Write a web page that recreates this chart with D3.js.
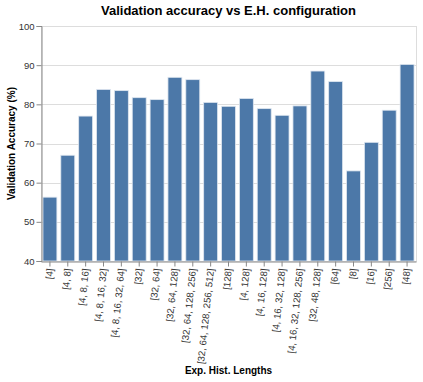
<!DOCTYPE html>
<html>
<head>
<meta charset="utf-8">
<script src="https://cdn.jsdelivr.net/npm/d3@7"></script>
<style>
  body { margin: 0; background: #fff; }
  text { font-family: "Liberation Sans", Arial, sans-serif; }
</style>
</head>
<body>
<script>
// bar chart: validation accuracy per exp. hist. length configuration

var configs = ["[4]", "[4, 8]", "[4, 8, 16]", "[4, 8, 16, 32]", "[4, 8, 16, 32, 64]",
  "[32]", "[32, 64]", "[32, 64, 128]", "[32, 64, 128, 256]", "[32, 64, 128, 256, 512]",
  "[128]", "[4, 128]", "[4, 16, 128]", "[4, 16, 32, 128]", "[4, 16, 32, 128, 256]",
  "[32, 48, 128]", "[64]", "[8]", "[16]", "[256]", "[48]"];
var accuracy = [56.3, 67.0, 77.0, 83.8, 83.5, 81.7, 81.2, 86.9, 86.3, 80.5, 79.5,
  81.5, 78.9, 77.2, 79.6, 88.5, 85.8, 63.0, 70.3, 78.5, 90.2];
var yTicks = [40, 50, 60, 70, 80, 90, 100];

var width = 423,
    height = 382,
    margin = {top: 26, right: 7, bottom: 121, left: 41};

var svg = d3.select("body")
  .append("svg")
    .attr("width", width)
    .attr("height", height);

var x = d3.scaleBand()
    .domain(configs)
    .range([margin.left, width - margin.right])
    .paddingInner(0.22)
    .paddingOuter(0.11);

var y = d3.scaleLinear()
    .domain([40, 100])
    .range([height - margin.bottom, margin.top]);

// grid
svg.append("g")
  .selectAll("line")
  .data(yTicks)
  .enter().append("line")
    .attr("x1", margin.left)
    .attr("x2", width - margin.right)
    .attr("y1", function(d) { return Math.round(y(d)) + 0.5; })
    .attr("y2", function(d) { return Math.round(y(d)) + 0.5; })
    .attr("stroke", "#ddd");

// view border
svg.append("rect")
    .attr("x", margin.left + 0.5)
    .attr("y", margin.top + 0.5)
    .attr("width", width - margin.right - margin.left)
    .attr("height", height - margin.bottom - margin.top)
    .attr("fill", "none")
    .attr("stroke", "#ddd");

svg.append("g")
  .selectAll("rect")
  .data(accuracy)
  .enter().append("rect")
    .attr("x", function(d, i) { return x(configs[i]); })
    .attr("y", function(d) { return y(d); })
    .attr("width", x.bandwidth())
    .attr("height", function(d) { return y(40) - y(d); })
    .attr("fill", "#4c78a8")
    .attr("stroke", "#dfe7f0")
    .attr("stroke-width", 0.8);

// y axis
var yAxis = svg.append("g")
    .attr("transform", "translate(" + (margin.left + 0.5) + ",0)")
    .call(d3.axisLeft(y).tickValues(yTicks).tickSize(5).tickPadding(2));
yAxis.select(".domain").attr("stroke", "#888");
yAxis.selectAll(".tick line").attr("stroke", "#888");
yAxis.selectAll(".tick text")
    .attr("font-size", 9.5)
    .attr("fill", "#333")
    .attr("font-family", "Liberation Sans, Arial, sans-serif");

// x axis
var xAxis = svg.append("g")
    .attr("transform", "translate(0," + (height - margin.bottom + 0.5) + ")")
    .call(d3.axisBottom(x).tickSize(5).tickSizeOuter(0));
xAxis.select(".domain").attr("stroke", "#888");
xAxis.selectAll(".tick line").attr("stroke", "#888");
xAxis.selectAll(".tick text")
    .attr("font-size", 9.6)
    .attr("fill", "#333")
    .attr("font-family", "Liberation Sans, Arial, sans-serif")
    .attr("text-anchor", "end")
    .attr("dy", "0.35em")
    .attr("y", 0)
    .attr("transform", "translate(0,7) rotate(-84)");

svg.append("text")
    .attr("x", (margin.left + width - margin.right) / 2)
    .attr("y", 15)
    .attr("text-anchor", "middle")
    .attr("font-size", 13)
    .attr("font-weight", "bold")
    .attr("fill", "#000")
    .text("Validation accuracy vs E.H. configuration");

svg.append("text")
    .attr("x", (margin.left + width - margin.right) / 2)
    .attr("y", 374)
    .attr("text-anchor", "middle")
    .attr("font-size", 10)
    .attr("font-weight", "bold")
    .attr("fill", "#000")
    .text("Exp. Hist. Lengths");

svg.append("text")
    .attr("transform", "translate(15," + (margin.top + height - margin.bottom) / 2 + ") rotate(-90)")
    .attr("text-anchor", "middle")
    .attr("font-size", 10)
    .attr("font-weight", "bold")
    .attr("fill", "#000")
    .text("Validation Accuracy (%)");
</script>
</body>
</html>
